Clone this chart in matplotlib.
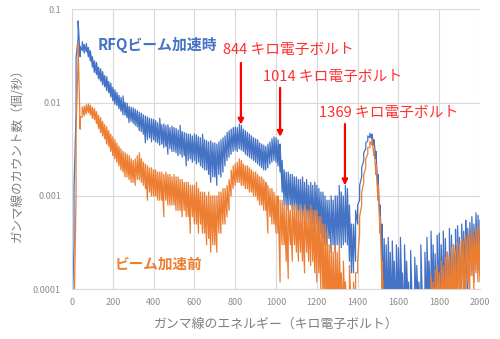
import numpy as np
import matplotlib
matplotlib.use("Agg")
import matplotlib.pyplot as plt

plt.rcParams['font.family'] = ['Noto Sans CJK JP', 'DejaVu Sans']

# energy channels (keV), 10 keV bins
energy = np.arange(0, 2001, 10)

# RFQ beam on: lowest and highest count rate (counts/s) seen in each bin
on_low = [
    0.00005, 0.0003, 0.008, 0.050, 0.031, 0.036, 0.034, 0.035, 0.031, 0.028,
    0.024, 0.021, 0.020, 0.018, 0.017, 0.0155, 0.0148, 0.0135, 0.0128, 0.0115,
    0.0105, 0.0096, 0.0093, 0.0086, 0.0081, 0.0074, 0.0073, 0.0069, 0.0061, 0.0063,
    0.0060, 0.0057, 0.0055, 0.0050, 0.0049, 0.0046, 0.0037, 0.0040, 0.0042, 0.0038,
    0.0040, 0.0038, 0.0037, 0.0035, 0.0036, 0.0033, 0.0034, 0.0028, 0.0032, 0.0030,
    0.0030, 0.0029, 0.0027, 0.0028, 0.0026, 0.0027, 0.0021, 0.0024, 0.0025, 0.0023,
    0.0024, 0.0022, 0.0023, 0.0021, 0.0020, 0.0019, 0.0019, 0.0017, 0.0014, 0.0016,
    0.0016, 0.0013, 0.0017, 0.0016, 0.0018, 0.0021, 0.0024, 0.0026, 0.0028, 0.0030,
    0.0031, 0.0030, 0.0032, 0.0031, 0.0030, 0.0028, 0.0027, 0.0026, 0.0025, 0.0024,
    0.0023, 0.0022, 0.0021, 0.0020, 0.0019, 0.0019, 0.0020, 0.0022, 0.0023, 0.0024,
    0.0023, 0.0021, 0.0018, 0.0011, 0.0008, 0.0008, 0.0007, 0.0008, 0.0007, 0.0007,
    0.0007, 0.0006, 0.0006, 0.0006, 0.0005, 0.0006, 0.0005, 0.0005, 0.0005, 0.0004,
    0.0005, 0.0004, 0.0004, 0.00035, 0.0003, 0.0003, 0.00035, 0.00025, 0.0003, 0.00025,
    0.0003, 0.0003, 0.00028, 0.0003, 0.00032, 0.0003, 0.0002, 0.00015, 0.00015, 0.0002,
    0.0005, 0.0009, 0.0016, 0.0024, 0.0032, 0.0039, 0.0042, 0.0041, 0.0035, 0.0025,
    0.0011, 0.0005, 0.0002, 0.00005, 0.00005, 0.00005, 0.00005, 0.00005, 0.00005, 0.00005,
    0.00005, 0.00005, 0.00005, 0.00005, 0.00005, 0.00005, 0.00005, 0.00005, 0.00005, 0.00005,
    0.00005, 0.00005, 0.00005, 0.00005, 0.00005, 0.00005, 0.00005, 0.00005, 0.00005, 0.00005,
    0.00005, 0.00005, 0.00008, 0.00005, 0.00005, 0.0001, 0.00005, 0.00005, 0.00012, 0.00005,
    0.0001, 0.00005, 0.00012, 0.00015, 0.00005, 0.00014, 0.00018, 0.00012, 0.0002, 0.00016,
    0.00015,
]
on_high = [
    0.00005, 0.0012, 0.030, 0.075, 0.040, 0.045, 0.042, 0.043, 0.039, 0.036,
    0.031, 0.028, 0.027, 0.024, 0.023, 0.0215, 0.0195, 0.019, 0.0168, 0.0162,
    0.0146, 0.0137, 0.0129, 0.0120, 0.0114, 0.0118, 0.0100, 0.0099, 0.0091, 0.0089,
    0.0088, 0.0085, 0.0082, 0.0079, 0.0077, 0.0074, 0.0072, 0.0070, 0.0068, 0.0067,
    0.0066, 0.0064, 0.0061, 0.0068, 0.0058, 0.0059, 0.0057, 0.0058, 0.0054, 0.0056,
    0.0054, 0.0053, 0.0051, 0.0057, 0.0049, 0.0048, 0.0047, 0.0046, 0.0046, 0.0044,
    0.0046, 0.0045, 0.0043, 0.0042, 0.0046, 0.0040, 0.0039, 0.0038, 0.0039, 0.0037,
    0.0037, 0.0036, 0.0038, 0.0040, 0.0042, 0.0044, 0.0048, 0.0050, 0.0052, 0.0054,
    0.0055, 0.0054, 0.0059, 0.0057, 0.0052, 0.0050, 0.0048, 0.0046, 0.0044, 0.0042,
    0.0041, 0.0040, 0.0037, 0.0036, 0.0035, 0.0034, 0.0036, 0.0038, 0.0041, 0.0043,
    0.0042, 0.0040, 0.0036, 0.0024, 0.0019, 0.0018, 0.0018, 0.0017, 0.0017, 0.0016,
    0.0016, 0.0015, 0.0015, 0.0016, 0.0014, 0.0015, 0.0013, 0.0014, 0.0013, 0.0014,
    0.0013, 0.0012, 0.0011, 0.0011, 0.0010, 0.0009, 0.0009, 0.0010, 0.0009, 0.0010,
    0.0010, 0.0013, 0.0011, 0.0010, 0.0013, 0.0012, 0.0008, 0.0005, 0.0005, 0.0007,
    0.0008, 0.0013, 0.0020, 0.0029, 0.0037, 0.0044, 0.0047, 0.0046, 0.0040, 0.0030,
    0.0017, 0.0008, 0.0005, 0.00035, 0.00030, 0.00036, 0.00025, 0.00033, 0.00020, 0.00030,
    0.00028, 0.00036, 0.00015, 0.00030, 0.00020, 0.00012, 0.00026, 0.00010, 0.00022, 0.00018,
    0.00012, 0.00030, 0.00010, 0.00025, 0.00036, 0.00020, 0.00042, 0.00030, 0.00024, 0.00038,
    0.00040, 0.00030, 0.00042, 0.00035, 0.00025, 0.00045, 0.00038, 0.00030, 0.00044, 0.00048,
    0.00036, 0.00050, 0.00042, 0.00055, 0.00045, 0.00052, 0.00060, 0.00050, 0.00066, 0.00062,
    0.00055,
]

# before beam acceleration: lowest and highest count rate in each bin
off_low = [
    0.00005, 0.00005, 0.0010, 0.030, 0.0052, 0.0070, 0.0072, 0.0075, 0.0078, 0.0074,
    0.0068, 0.0066, 0.0060, 0.0053, 0.0048, 0.0044, 0.0041, 0.0036, 0.0034, 0.0030,
    0.0027, 0.0025, 0.0023, 0.0021, 0.0019, 0.0018, 0.0016, 0.0016, 0.0015, 0.0014,
    0.0014, 0.0013, 0.0015, 0.0015, 0.0014, 0.0013, 0.0012, 0.0009, 0.0011, 0.0010,
    0.0010, 0.0010, 0.0009, 0.0009, 0.0009, 0.0006, 0.0009, 0.0008, 0.0008, 0.0008,
    0.0008, 0.0007, 0.0007, 0.0007, 0.0006, 0.0007, 0.0006, 0.0006, 0.0004, 0.0006,
    0.0005, 0.0005, 0.0004, 0.0005, 0.0004, 0.0004, 0.0003, 0.00035, 0.00025, 0.0003,
    0.0003, 0.00025, 0.0004, 0.0004, 0.0005, 0.0005, 0.0006, 0.0007, 0.0010, 0.0012,
    0.0013, 0.0014, 0.0014, 0.0013, 0.0013, 0.0012, 0.0012, 0.0011, 0.0011, 0.0010,
    0.0010, 0.0009, 0.0008, 0.0008, 0.0007, 0.0007, 0.0004, 0.0006, 0.0005, 0.0005,
    0.0004, 0.0004, 0.00012, 0.0003, 0.0003, 0.0002, 0.00013, 0.0003, 0.0002, 0.0003,
    0.00025, 0.0002, 0.00025, 0.0002, 0.00015, 0.00025, 0.0002, 0.00018, 0.0002, 0.00015,
    0.00012, 0.00015, 0.0001, 0.0001, 0.00005, 0.00005, 0.00005, 0.00005, 0.00005, 0.00005,
    0.00005, 0.00005, 0.00005, 0.00005, 0.00005, 0.00005, 0.00005, 0.00005, 0.00005, 0.00005,
    0.00015, 0.0004, 0.0008, 0.0014, 0.0020, 0.0028, 0.0033, 0.0035, 0.0027, 0.0017,
    0.0009, 0.0004, 0.0001, 0.00005, 0.00005, 0.00005, 0.00005, 0.00005, 0.00005, 0.00005,
    0.00005, 0.00005, 0.00005, 0.00005, 0.00005, 0.00005, 0.00005, 0.00005, 0.00005, 0.00005,
    0.00005, 0.00005, 0.00005, 0.00005, 0.00005, 0.00005, 0.00005, 0.00005, 0.00005, 0.00005,
    0.00005, 0.00005, 0.00005, 0.00005, 0.00005, 0.00005, 0.00005, 0.00005, 0.00005, 0.00005,
    0.00008, 0.00005, 0.0001, 0.00005, 0.00012, 0.00008, 0.00014, 0.0001, 0.00015, 0.00012,
    0.00012,
]
off_high = [
    0.00005, 0.00005, 0.0050, 0.043, 0.0070, 0.0090, 0.0092, 0.0095, 0.0097, 0.0094,
    0.0089, 0.0086, 0.0080, 0.0073, 0.0069, 0.0063, 0.0058, 0.0055, 0.0050, 0.0046,
    0.0043, 0.0040, 0.0037, 0.0034, 0.0032, 0.0030, 0.0029, 0.0028, 0.0027, 0.0025,
    0.0024, 0.0025, 0.0027, 0.0029, 0.0025, 0.0023, 0.0022, 0.0021, 0.0020, 0.0020,
    0.0019, 0.0019, 0.0018, 0.0018, 0.0018, 0.0017, 0.0018, 0.0017, 0.0017, 0.0016,
    0.0017, 0.0016, 0.0016, 0.0015, 0.0015, 0.0014, 0.0014, 0.0014, 0.0013, 0.0013,
    0.0013, 0.0014, 0.0012, 0.0011, 0.0011, 0.0011, 0.0010, 0.0011, 0.0010, 0.0010,
    0.0010, 0.0010, 0.0011, 0.0011, 0.0012, 0.0012, 0.0013, 0.0015, 0.0019, 0.0021,
    0.0022, 0.0023, 0.0025, 0.0024, 0.0022, 0.0021, 0.0021, 0.0020, 0.0019, 0.0018,
    0.0018, 0.0017, 0.0016, 0.0016, 0.0015, 0.0014, 0.0013, 0.0012, 0.0012, 0.0011,
    0.0010, 0.0010, 0.0009, 0.0009, 0.0008, 0.0008, 0.0008, 0.0007, 0.0008, 0.0008,
    0.0008, 0.0007, 0.0008, 0.0007, 0.0008, 0.0007, 0.0007, 0.0008, 0.0007, 0.0007,
    0.0007, 0.0006, 0.0006, 0.0005, 0.0005, 0.0004, 0.0003, 0.0003, 0.00025, 0.0003,
    0.00025, 0.0003, 0.00015, 0.0002, 0.00012, 0.00008, 0.00018, 0.00008, 0.00012, 0.00015,
    0.0002, 0.0006, 0.0011, 0.0017, 0.0025, 0.0033, 0.0038, 0.0040, 0.0032, 0.0022,
    0.0013, 0.0006, 0.0002, 0.00008, 0.00005, 0.00005, 0.00005, 0.00005, 0.00005, 0.00005,
    0.00005, 0.00005, 0.00005, 0.00005, 0.00005, 0.00005, 0.00005, 0.00005, 0.00005, 0.00005,
    0.00005, 0.00005, 0.00005, 0.00005, 0.00005, 0.00010, 0.00014, 0.00012, 0.00016, 0.00018,
    0.00015, 0.00020, 0.00018, 0.00022, 0.00025, 0.00022, 0.00028, 0.00030, 0.00026, 0.00032,
    0.00030, 0.00035, 0.00033, 0.00038, 0.00036, 0.00040, 0.00042, 0.00038, 0.00045, 0.00048,
    0.00042,
]

# peak labels and their arrows
peak_labels = ['844 キロ電子ボルト', '1014 キロ電子ボルト', '1369 キロ電子ボルト']
label_xy = [(740, 0.0366), (936, 0.0188), (1211, 0.0077)]
arrow_x = [828, 1020, 1338]
arrow_tail = [0.0266, 0.0144, 0.0059]
arrow_tip = [0.0058, 0.0043, 0.0013]

x_ticks = [0, 200, 400, 600, 800, 1000, 1200, 1400, 1600, 1800, 2000]
y_ticks = [0.0001, 0.001, 0.01, 0.1]
y_ticklabels = ['0.0001', '0.001', '0.01', '0.1']

blue = '#4472C4'
orange = '#ED7D31'
red = '#FF0000'
gray_txt = '#8C8C8C'


def trace(low, high):
    # min/max per bin, drawn as one connected trace like a dense spectrum
    xs = np.repeat(energy, 2)
    ys = np.column_stack([low, high]).ravel()
    return xs, ys


fig = plt.figure(figsize=(5, 3.39), dpi=100)
ax = fig.add_axes([0.144, 0.1466, 0.816, 0.826])

ax.plot(*trace(on_low, on_high), color=blue, lw=0.9)
ax.plot(*trace(off_low, off_high), color=orange, lw=0.9)

ax.set_yscale('log')
ax.set_xlim(0, 2000)
ax.set_ylim(0.0001, 0.1)
ax.set_xticks(x_ticks)
ax.set_yticks(y_ticks)
ax.set_yticklabels(y_ticklabels)
ax.minorticks_off()
ax.tick_params(length=0, labelsize=6.5, labelcolor=gray_txt)
ax.tick_params(axis='x', pad=6)
ax.tick_params(axis='y', pad=8)
ax.grid(True, color='#D9D9D9', lw=0.8)
ax.set_axisbelow(True)
for side in ['top', 'right']:
    ax.spines[side].set_visible(False)
for side in ['left', 'bottom']:
    ax.spines[side].set_color('#D9D9D9')

ax.set_xlabel('ガンマ線のエネルギー（キロ電子ボルト）', fontsize=9.3, color='#7F7F7F', va='center')
ax.xaxis.set_label_coords(0.5, -0.124)
ax.set_ylabel('ガンマ線のカウント数（個/秒）', fontsize=9, color='#7F7F7F', va='center')
ax.yaxis.set_label_coords(-0.135, 0.49)

ax.text(127, 0.0415, 'RFQビーム加速時', color=blue, fontsize=10.7,
        fontweight='bold', va='center')
ax.text(211, 0.000187, 'ビーム加速前', color=orange, fontsize=10.5,
        fontweight='bold', va='center')

for txt, (tx, ty) in zip(peak_labels, label_xy):
    ax.text(tx, ty, txt, color='#FF3030', fontsize=10.6, va='center')
for x, y0, y1 in zip(arrow_x, arrow_tail, arrow_tip):
    ax.annotate('', xy=(x, y1), xytext=(x, y0),
                arrowprops=dict(arrowstyle='-|>', color=red, lw=1.6,
                                mutation_scale=8, shrinkA=0, shrinkB=0))

fig.savefig('out.png', dpi=100)
